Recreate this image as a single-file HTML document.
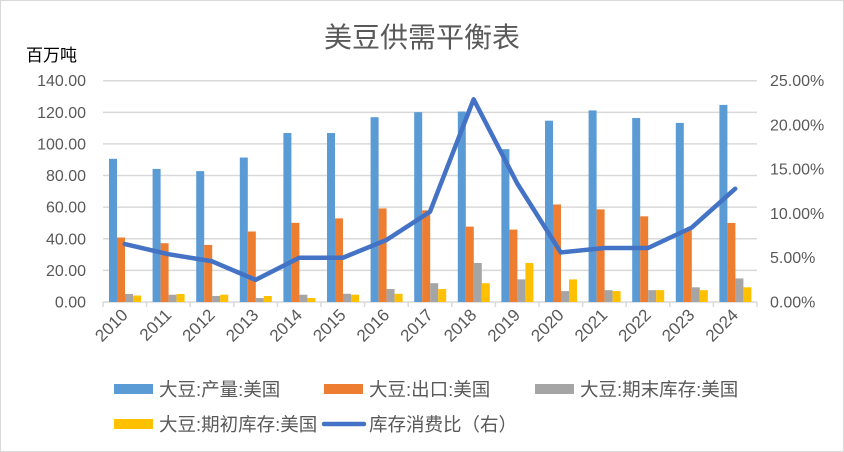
<!DOCTYPE html>
<html><head><meta charset="utf-8"><style>
body{margin:0;background:#fff}
svg{display:block}
text{font-family:"Liberation Sans","Noto Sans CJK SC",sans-serif}
</style></head><body>
<svg width="844" height="452" viewBox="0 0 844 452" xmlns="http://www.w3.org/2000/svg">
<rect x="0.5" y="0.5" width="843" height="451" fill="#fff" stroke="#d9d9d9"/>
<text x="422" y="47" text-anchor="middle" font-size="28" fill="#595959">美豆供需平衡表</text>
<text x="26" y="61" font-size="17" fill="#000">百万吨</text>
<g id="g"></g>
</svg>
<script>
const svgNS="http://www.w3.org/2000/svg",g=document.getElementById('g');
function el(t,a,txt){const e=document.createElementNS(svgNS,t);for(const k in a)e.setAttribute(k,a[k]);if(txt!==undefined)e.textContent=txt;g.appendChild(e);return e;}
const x0=103,cw=43.6,y0=302,k=221.3/140,pk=221.3/25;
for(let i=0;i<=7;i++){const y=y0-i*20*k;el('line',{x1:x0,x2:x0+15*cw,y1:y,y2:y,stroke:'#d9d9d9','stroke-width':1.5});
el('text',{x:86,y:y+5.5,'text-anchor':'end','font-size':16,fill:'#595959'},(i*20).toFixed(2));}
for(let i=0;i<=5;i++){const y=y0-i*5*pk;el('text',{x:770,y:y+5.5,'font-size':16,fill:'#595959'},(i*5).toFixed(2)+'%');}
for(let i=0;i<=15;i++){el('line',{x1:x0+i*cw,x2:x0+i*cw,y1:302,y2:307,stroke:'#d9d9d9','stroke-width':1.5});}
const A=[90.6,84.2,82.8,91.4,106.9,106.9,116.9,120.1,120.5,96.7,114.7,121.2,116.4,113.3,124.7],
B=[40.8,37.2,36.1,44.6,50.1,52.9,59.2,58.0,47.7,45.8,61.7,58.6,54.2,45.9,50.0],
C=[5.1,4.6,3.8,2.5,4.6,5.2,8.2,11.9,24.7,14.3,6.9,7.5,7.5,9.3,14.9],
D=[4.1,5.1,4.6,3.8,2.5,4.6,5.2,8.2,11.9,24.7,14.3,6.9,7.5,7.5,9.3],
L=[6.55,5.4,4.6,2.5,5.0,5.0,7.0,10.2,22.9,13.4,5.6,6.1,6.1,8.4,12.8];
const cols=['#5b9bd5','#ed7d31','#a5a5a5','#ffc000'];
[A,B,C,D].forEach((s,j)=>s.forEach((v,i)=>{const h=v*k;el('rect',{x:x0+i*cw+6+j*8,y:y0-h,width:8,height:h,fill:cols[j]});}));
el('polyline',{points:L.map((v,i)=>(x0+cw/2+i*cw)+','+(y0-v*pk)).join(' '),fill:'none',stroke:'#4472c4','stroke-width':4.5,'stroke-linejoin':'round','stroke-linecap':'round'});
for(let i=0;i<15;i++){const cx=x0+cw/2+i*cw+4,cy=316;el('text',{x:cx,y:cy,'text-anchor':'end','font-size':17,fill:'#595959',transform:`rotate(-45 ${cx} ${cy})`},2010+i);}
const leg=[[114,384,'#5b9bd5','大豆:产量:美国'],[324,384,'#ed7d31','大豆:出口:美国'],[535,384,'#a5a5a5','大豆:期末库存:美国'],[114,419,'#ffc000','大豆:期初库存:美国']];
leg.forEach(l=>{el('rect',{x:l[0],y:l[1],width:39,height:10,fill:l[2]});el('text',{x:l[0]+45,y:l[1]+12,'font-size':18.5,fill:'#595959'},l[3]);});
el('line',{x1:324,x2:364,y1:424,y2:424,stroke:'#4472c4','stroke-width':4.5,'stroke-linecap':'round'});
el('text',{x:369,y:431,'font-size':18.5,fill:'#595959'},'库存消费比（右）');
</script>
</body></html>
